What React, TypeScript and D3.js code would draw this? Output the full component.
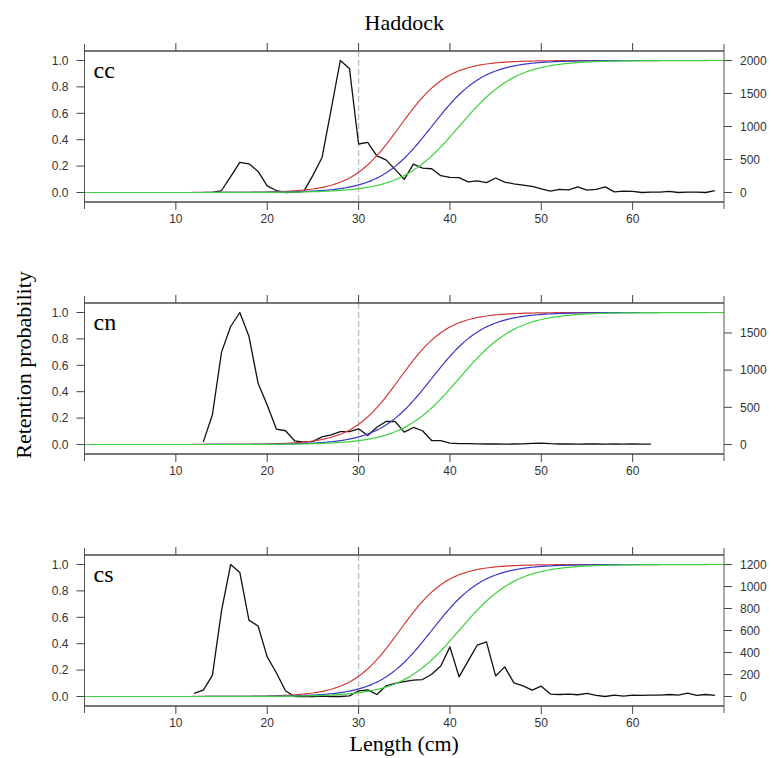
import React from 'react';
import * as d3 from 'd3';

const W = 769;
const H = 758;

// x axis
const xDomain = [0, 70];
const xTickValues = [10, 20, 30, 40, 50, 60];
const leftTickValues = [0, 0.2, 0.4, 0.6, 0.8, 1.0];
const refLength = 30;

// panels
const panelLabels = ['cc', 'cn', 'cs'];
const panelMaxCount = [2000, 1775, 1200];
const ccRightTicks = [0, 500, 1000, 1500, 2000];
const cnRightTicks = [0, 500, 1000, 1500];
const csRightTicks = [0, 200, 400, 600, 800, 1000, 1200];

// length-frequency counts (first length class, then counts per 1 cm)
const ccStart = 14;
const ccCounts = [0, 30, 240, 455, 435, 320, 100, 30, 0, 6, 16, 260, 530, 1260, 2000, 1880, 735, 760, 555, 495,
  350, 200, 430, 370, 360, 255, 230, 225, 160, 175, 150, 220, 158, 132, 112, 92, 56, 20, 46, 40,
  86, 36, 46, 86, 10, 20, 16, 0, 6, 6, 16, 0, 6, 6, 0, 30];
const cnStart = 13;
const cnCounts = [32, 400, 1242, 1587, 1775, 1455, 825, 532, 208, 185, 50, 32, 41, 103, 130, 174, 174, 211, 121, 231,
  309, 309, 167, 229, 185, 53, 53, 18, 11, 11, 9, 7, 9, 5, 7, 9, 14, 18, 11, 7,
  7, 5, 7, 9, 5, 7, 5, 7, 5, 5];
const csStart = 12;
const csCounts = [28, 58, 192, 780, 1200, 1128, 694, 641, 360, 216, 52, 0, 0, 0, 4, 0, 0, 6, 52, 60,
  18, 96, 120, 136, 148, 154, 202, 278, 451, 179, 324, 468, 496, 187, 269, 124, 97, 58, 94, 22,
  18, 22, 16, 28, 10, 0, 12, 4, 12, 10, 12, 12, 18, 12, 30, 10, 18, 10];

// selection (retention) curves: L50 and slope
const selL50 = [34.5, 38.0, 41.0];
const selSlope = [0.38, 0.35, 0.32];
const selColors = ['#d23a3a', '#3a3ac8', '#3fd23f'];

const panelStarts = [ccStart, cnStart, csStart];
const panelCounts = [ccCounts, cnCounts, csCounts];
const panelRightTicks = [ccRightTicks, cnRightTicks, csRightTicks];

const plotLeft = 84.5;
const plotRight = 724;
const panelTops = [51, 303, 555];
const panelHeight = 151;
const yDomain = [-0.072, 1.072];

const sansFont = '"Liberation Sans", Arial, sans-serif';
const serifFont = '"Liberation Serif", "Times New Roman", serif';

function Panel({ idx }: { idx: number }) {
  const top = panelTops[idx];
  const bottom = top + panelHeight;
  const x = d3.scaleLinear().domain(xDomain).range([plotLeft, plotRight]);
  const y = d3.scaleLinear().domain(yDomain).range([bottom, top]);
  const maxC = panelMaxCount[idx];
  const yR = d3.scaleLinear().domain([0, maxC]).range([y(0), y(1)]);
  const counts = panelCounts[idx];
  const start = panelStarts[idx];
  const freq = counts.map((c, i) => [start + i, c] as [number, number]);
  const freqLine = d3.line<[number, number]>().x(d => x(d[0])).y(d => yR(d[1]));
  const grid = d3.range(xDomain[0], xDomain[1] + 0.001, 0.2);
  const selPaths = selL50.map((l50, j) => {
    const pts = grid.map(v => [v, 1 / (1 + Math.exp(-selSlope[j] * (v - l50)))] as [number, number]);
    return d3.line<[number, number]>().x(d => x(d[0])).y(d => y(d[1]))(pts) || '';
  });
  const rTicks = panelRightTicks[idx];
  return (
    <g>
      <line x1={x(refLength)} x2={x(refLength)} y1={top} y2={bottom} stroke="#bdbdbd" strokeWidth={1.3} strokeDasharray="6,3" />
      <path d={freqLine(freq) || ''} fill="none" stroke="#111" strokeWidth={1.3} strokeLinejoin="round" />
      {selPaths.map((p, j) => (
        <path key={j} d={p} fill="none" stroke={selColors[j]} strokeWidth={1.2} />
      ))}
      <line x1={plotLeft} x2={plotRight} y1={top} y2={top} stroke="#777" strokeWidth={2} />
      <line x1={plotLeft} x2={plotRight} y1={bottom} y2={bottom} stroke="#777" strokeWidth={2} />
      <line x1={plotLeft} x2={plotLeft} y1={top - 7} y2={bottom + 7} stroke="#555" strokeWidth={1} />
      <line x1={plotRight} x2={plotRight} y1={top - 7} y2={bottom + 7} stroke="#555" strokeWidth={1} />
      {xTickValues.map(t => (
        <g key={t}>
          <line x1={x(t)} x2={x(t)} y1={top} y2={top - 8} stroke="#444" strokeWidth={1} />
          <line x1={x(t)} x2={x(t)} y1={bottom} y2={bottom + 8} stroke="#444" strokeWidth={1} />
          <text x={x(t)} y={bottom + 21} textAnchor="middle" fontFamily={sansFont} fontSize={12} fill="#333">{t}</text>
        </g>
      ))}
      {leftTickValues.map(t => (
        <g key={t}>
          <line x1={plotLeft - 8} x2={plotLeft} y1={y(t)} y2={y(t)} stroke="#444" strokeWidth={1} />
          <text x={plotLeft - 16} y={y(t)} dy="0.35em" textAnchor="end" fontFamily={sansFont} fontSize={12} fill="#333">{t.toFixed(1)}</text>
        </g>
      ))}
      {rTicks.map(t => (
        <g key={t}>
          <line x1={plotRight} x2={plotRight + 8} y1={yR(t)} y2={yR(t)} stroke="#444" strokeWidth={1} />
          <text x={plotRight + 16} y={yR(t)} dy="0.35em" textAnchor="start" fontFamily={sansFont} fontSize={12} fill="#333">{t}</text>
        </g>
      ))}
      <text x={plotLeft + 9} y={top + 27} fontFamily={serifFont} fontSize={24} fill="#000">{panelLabels[idx]}</text>
    </g>
  );
}

export default function App() {
  const cx = (plotLeft + plotRight) / 2;
  return (
    <svg width={W} height={H} style={{ position: 'absolute', left: 0, top: 0, background: '#fff' }}>
      <rect x={0} y={0} width={W} height={H} fill="#fff" />
      <text x={cx} y={30} textAnchor="middle" fontFamily={serifFont} fontSize={22} fill="#000">Haddock</text>
      {panelLabels.map((_, i) => <Panel key={i} idx={i} />)}
      <text x={cx} y={751} textAnchor="middle" fontFamily={serifFont} fontSize={22} fill="#000">Length (cm)</text>
      <text transform="translate(31,365) rotate(-90)" textAnchor="middle" fontFamily={serifFont} fontSize={22} fill="#000">Retention probability</text>
    </svg>
  );
}
